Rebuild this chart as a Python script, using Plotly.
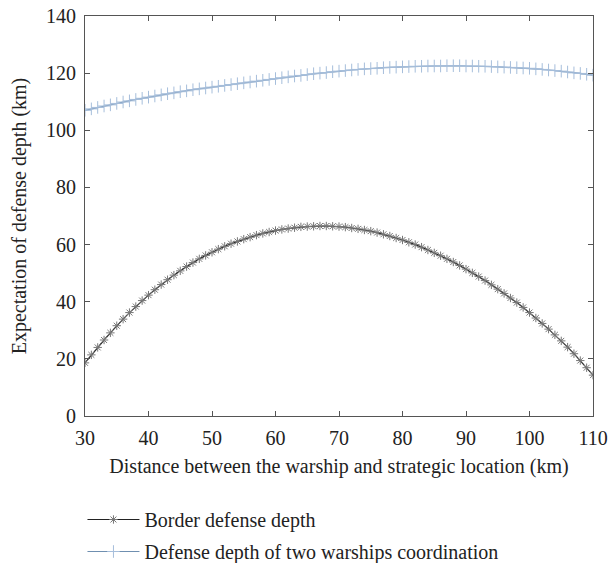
import plotly.graph_objects as go

distance_km = list(range(30, 111))

border_depth = [
    18.6, 21.4, 24.0, 26.6, 29.1, 31.6, 33.9, 36.2, 38.3, 40.4,
    42.3, 44.2, 46.0, 47.7, 49.3, 50.8, 52.3, 53.7, 55.0, 56.2,
    57.3, 58.4, 59.4, 60.3, 61.1, 61.9, 62.6, 63.3, 63.9, 64.4,
    64.9, 65.3, 65.6, 65.9, 66.2, 66.3, 66.4, 66.5, 66.5, 66.4,
    66.3, 66.1, 65.8, 65.5, 65.1, 64.7, 64.2, 63.6, 63.0, 62.3,
    61.6, 60.8, 60.0, 59.1, 58.1, 57.1, 56.1, 55.0, 53.9, 52.7,
    51.4, 50.1, 48.8, 47.4, 45.9, 44.4, 42.9, 41.3, 39.7, 38.0,
    36.2, 34.3, 32.4, 30.4, 28.4, 26.3, 24.1, 21.8, 19.4, 16.9,
    14.3,
]

coordination_depth = [
    107.0, 107.5, 108.0, 108.5, 108.9, 109.4, 109.9, 110.3, 110.8, 111.2,
    111.6, 112.0, 112.4, 112.8, 113.1, 113.5, 113.8, 114.2, 114.5, 114.8,
    115.1, 115.4, 115.7, 116.0, 116.3, 116.6, 116.9, 117.2, 117.5, 117.8,
    118.1, 118.4, 118.7, 119.0, 119.2, 119.5, 119.8, 120.0, 120.2, 120.5,
    120.7, 120.9, 121.1, 121.3, 121.5, 121.6, 121.7, 121.9, 122.0, 122.1,
    122.2, 122.3, 122.4, 122.4, 122.5, 122.5, 122.5, 122.6, 122.6, 122.6,
    122.5, 122.5, 122.4, 122.4, 122.3, 122.2, 122.1, 122.0, 121.9, 121.8,
    121.7, 121.5, 121.3, 121.1, 120.9, 120.7, 120.4, 120.1, 119.9, 119.6,
    119.3,
]

x_ticks = [30, 40, 50, 60, 70, 80, 90, 100, 110]
y_ticks = [0, 20, 40, 60, 80, 100, 120, 140]

FONT = "Liberation Serif"
FS = 20

fig = go.Figure()
fig.add_trace(go.Scatter(
    x=distance_km, y=border_depth, mode="lines+markers",
    name="Border defense depth",
    line=dict(color="#222222", width=1.2),
    marker=dict(symbol="asterisk-open", size=7, color="#777777",
                line=dict(color="#777777", width=1)),
    legendgroup="a",
))
fig.add_trace(go.Scatter(
    x=distance_km, y=coordination_depth, mode="lines+markers",
    name="Defense depth of two warships coordination",
    line=dict(color="#6f8fb0", width=1.2),
    marker=dict(symbol="cross-thin-open", size=9, color="#a6bedb",
                line=dict(color="#a6bedb", width=1)),
    legendgroup="b",
))

axis_common = dict(
    showgrid=False, zeroline=False, showline=True, linecolor="#555555",
    linewidth=1, mirror="ticks", ticks="inside", ticklen=5,
    tickcolor="#555555", tickfont=dict(family=FONT, size=FS, color="#222222"),
)

fig.update_layout(
    width=608, height=563,
    margin=dict(l=85, r=15, t=16, b=147, autoexpand=False),
    paper_bgcolor="white", plot_bgcolor="white",
    font=dict(family=FONT, size=FS, color="#222222"),
    xaxis=dict(range=[30, 110], tickvals=x_ticks, ticklabelstandoff=4,
               title=dict(text="Distance between the warship and strategic location (km)",
                          font=dict(family=FONT, size=FS), standoff=10),
               **axis_common),
    yaxis=dict(range=[0, 140], tickvals=y_ticks, ticklabelstandoff=4,
               title=dict(text="Expectation of defense depth (km)",
                          font=dict(family=FONT, size=FS), standoff=14),
               **axis_common),
    showlegend=True,
    legend=dict(x=-0.005, y=-0.21, xanchor="left", yanchor="top",
                orientation="v", font=dict(family=FONT, size=FS, color="#222222"),
                itemwidth=52, tracegroupgap=3, bgcolor="rgba(0,0,0,0)"),
)

fig.write_html("out.html")
